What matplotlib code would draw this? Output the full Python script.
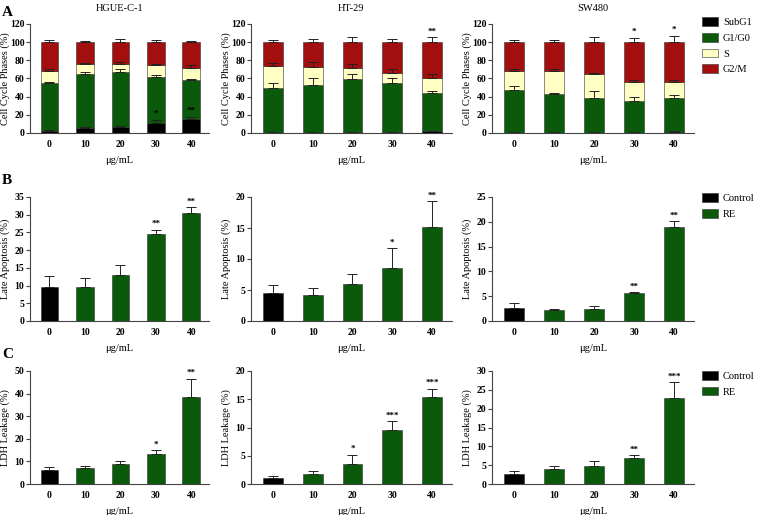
import matplotlib.pyplot as plt
import numpy as np

plt.rcParams['font.family'] = ['Liberation Serif', 'DejaVu Serif']
plt.rcParams['font.weight'] = 'bold'

# dữ liệu
doses = ['0', '10', '20', '30', '40']
cells = ['HGUE-C-1', 'HT-29', 'SW480']

# A: pha chu kỳ tế bào (%)
subg1 = {'HGUE-C-1': [2.5, 5, 7, 10.5, 15],
         'HT-29': [0.5, 0.5, 1, 1, 2],
         'SW480': [0.5, 0.5, 0.5, 0.5, 1.5]}
g1g0 = {'HGUE-C-1': [53, 60, 60, 51.5, 43.5],
        'HT-29': [49.5, 52.5, 58.5, 53.5, 41.5],
        'SW480': [47, 42, 38.5, 34.3, 36.8]}
s_phase = {'HGUE-C-1': [13, 11, 9.5, 12.5, 13],
           'HT-29': [24, 19.5, 12, 12, 17.5],
           'SW480': [21, 26, 25.5, 21.2, 17.7]}
g2m = {'HGUE-C-1': [31.5, 24, 23.5, 25.5, 28.5],
       'HT-29': [26, 27.5, 28.5, 33.5, 39],
       'SW480': [31.5, 31.5, 35.5, 44, 44]}
subg1_err = {'HGUE-C-1': [0.5, 2, 1, 4, 2.5],
             'HT-29': [0.2, 0.2, 0.3, 0.3, 0.5],
             'SW480': [0.2, 0.2, 0.2, 0.2, 0.3]}
g1g0_err = {'HGUE-C-1': [0.5, 2, 3, 2, 1],
            'HT-29': [5, 8, 5.5, 6.5, 2.5],
            'SW480': [4.5, 1.8, 7, 4.6, 3.9]}
s_err = {'HGUE-C-1': [1.5, 1, 1.5, 2, 3],
         'HT-29': [3, 5.5, 4.5, 4, 4],
         'SW480': [2.5, 2.5, 2, 2.5, 2]}
g2m_err = {'HGUE-C-1': [2, 1.5, 3.5, 2, 1],
           'HT-29': [2, 4, 6, 3.5, 5.5],
           'SW480': [2, 2, 5.5, 4.6, 6.4]}
# sao ý nghĩa: (vị trí cột, nhãn, mức y)
stars_a = {'HGUE-C-1': [(3, '*', 17), (4, '**', 20)],
           'HT-29': [(4, '**', 107)],
           'SW480': [(3, '*', 107), (4, '*', 109)]}

# B: apoptosis muộn (%)
apop = {'HGUE-C-1': [9.6, 9.6, 13.1, 24.6, 30.6],
        'HT-29': [4.5, 4.2, 6.0, 8.6, 15.2],
        'SW480': [2.6, 2.3, 2.5, 5.7, 18.9]}
apop_err = {'HGUE-C-1': [3.1, 2.4, 2.8, 1.2, 1.6],
            'HT-29': [1.3, 1.1, 1.6, 3.1, 4.1],
            'SW480': [1.1, 0.2, 0.6, 0.1, 1.2]}
apop_stars = {'HGUE-C-1': ['', '', '', '**', '**'],
              'HT-29': ['', '', '', '*', '**'],
              'SW480': ['', '', '', '**', '**']}
apop_ymax = {'HGUE-C-1': (35, 5), 'HT-29': (20, 5), 'SW480': (25, 5)}

# C: rò rỉ LDH (%)
ldh = {'HGUE-C-1': [6.0, 6.9, 9.0, 13.2, 38.7],
       'HT-29': [1.0, 1.7, 3.6, 9.5, 15.4],
       'SW480': [2.6, 3.9, 4.8, 6.8, 22.9]}
ldh_err = {'HGUE-C-1': [1.4, 0.9, 1.0, 1.8, 7.9],
           'HT-29': [0.5, 0.6, 1.6, 1.7, 1.5],
           'SW480': [0.8, 0.8, 1.2, 0.8, 4.1]}
ldh_stars = {'HGUE-C-1': ['', '', '', '*', '**'],
             'HT-29': ['', '', '*', '***', '***'],
             'SW480': ['', '', '', '**', '***']}
ldh_ymax = {'HGUE-C-1': (50, 10), 'HT-29': (20, 5), 'SW480': (30, 5)}

c_black = '#000000'
c_green = '#0b5a0b'
c_yellow = '#ffffc4'
c_red = '#a30f0f'

W, H = 758, 515
fig = plt.figure(figsize=(W / 100, H / 100), dpi=100)

cols = [(30, 209), (251, 452), (492, 694)]
rows = [(24, 133), (197, 321), (371, 484)]
legend_y = [1.06, 1.03, 1.0]


def make_ax(c, r, ylabel):
    x0, x1 = cols[c]
    y0, y1 = rows[r]
    ax = fig.add_axes([x0 / W, 1 - y1 / H, (x1 - x0) / W, (y1 - y0) / H])
    ax.spines['top'].set_visible(False)
    ax.spines['right'].set_visible(False)
    for sp in ['left', 'bottom']:
        ax.spines[sp].set_linewidth(0.8)
        ax.spines[sp].set_color('#444444')
    ax.tick_params(axis='y', length=3, width=0.8, labelsize=7, pad=1, color='#444444')
    ax.tick_params(axis='x', length=0, labelsize=7, pad=5)
    ax.set_xlim(-0.55, 4.5)
    ax.set_xticks(range(len(doses)))
    ax.set_xticklabels(doses)
    ax.set_xlabel('μg/mL', fontsize=7.5, labelpad=5)
    ax.set_ylabel(ylabel, fontsize=7.5)
    # nhãn trục y cách trục ~20 px
    ax.yaxis.set_label_coords(-20 / (x1 - x0), 0.5)
    return ax


def add_legend(ax, r, handles=None, labels=None):
    kw = dict(loc='upper left', bbox_to_anchor=(1.04, legend_y[r]), frameon=False,
              borderaxespad=0, borderpad=0, handlelength=1.5, handleheight=0.9,
              handletextpad=0.5, labelspacing=0.55, prop={'weight': 'normal', 'size': 7.5})
    if handles is None:
        ax.legend(**kw)
    else:
        ax.legend(handles, labels, **kw)


x = np.arange(len(doses))
bw = 0.5

# hàng A
for i, cell in enumerate(cells):
    ax = make_ax(i, 0, 'Cell Cycle Phases (%)')
    parts = [(subg1, subg1_err, c_black, 'SubG1'), (g1g0, g1g0_err, c_green, 'G1/G0'),
             (s_phase, s_err, c_yellow, 'S'), (g2m, g2m_err, c_red, 'G2/M')]
    bottom = np.zeros(len(doses))
    for vals, errs, col, lab in parts:
        v = np.array(vals[cell])
        ax.bar(x, v, bw, bottom=bottom, color=col, edgecolor='#333333', linewidth=0.4, label=lab)
        ax.errorbar(x, bottom + v, yerr=[np.zeros(len(v)), errs[cell]], fmt='none',
                    ecolor='#222222', elinewidth=0.7, capsize=3.5, capthick=0.7)
        bottom = bottom + v
    for k, txt, yy in stars_a[cell]:
        ax.text(k, yy, txt, ha='center', va='bottom', fontsize=6.5)
    ax.set_ylim(0, 120)
    ax.set_yticks(range(0, 121, 20))
    ax.set_title(cell, fontsize=7.5, fontweight='normal', pad=9)
    if i == 2:
        add_legend(ax, 0)


def simple_row(r, data, errs, stars, ymax, ylabel):
    for i, cell in enumerate(cells):
        ax = make_ax(i, r, ylabel)
        v = np.array(data[cell])
        colors = [c_black] + [c_green] * (len(v) - 1)
        bars = ax.bar(x, v, bw, color=colors, edgecolor='#333333', linewidth=0.4)
        ax.errorbar(x, v, yerr=[np.zeros(len(v)), errs[cell]], fmt='none',
                    ecolor='#222222', elinewidth=0.7, capsize=3.5, capthick=0.7)
        top, step = ymax[cell]
        for k, txt in enumerate(stars[cell]):
            if txt:
                ax.annotate(txt, (k, v[k] + errs[cell][k]), xytext=(0, 1),
                            textcoords='offset points', ha='center', va='bottom', fontsize=6.5)
        ax.set_ylim(0, top)
        ax.set_yticks(np.arange(0, top + 0.1, step))
        if i == 2:
            add_legend(ax, r, [bars[0], bars[1]], ['Control', 'RE'])


# hàng B, C
simple_row(1, apop, apop_err, apop_stars, apop_ymax, 'Late Apoptosis (%)')
simple_row(2, ldh, ldh_err, ldh_stars, ldh_ymax, 'LDH Leakage (%)')

for lab, yy in [('A', 12), ('B', 181), ('C', 354)]:
    fig.text(2 / W, 1 - yy / H, lab, fontsize=11, fontweight='bold', va='center')

plt.savefig('out.png', dpi=100)
